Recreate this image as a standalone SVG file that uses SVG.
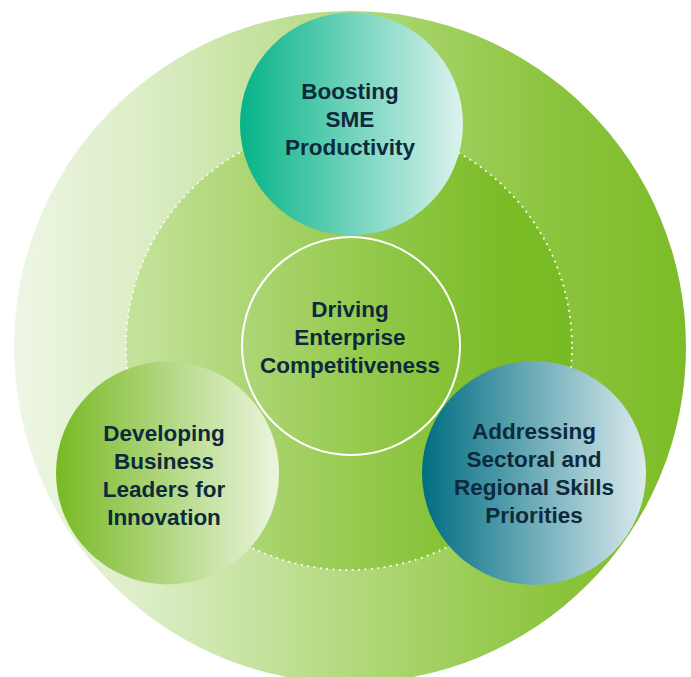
<svg xmlns="http://www.w3.org/2000/svg" width="691" height="677" viewBox="0 0 691 677">
<defs>
<linearGradient id="gOuter" gradientUnits="userSpaceOnUse" x1="14" y1="0" x2="686" y2="0">
<stop offset="0" stop-color="#eef6e5"/>
<stop offset="0.2" stop-color="#dbedc5"/>
<stop offset="0.55" stop-color="#acd672"/>
<stop offset="0.8" stop-color="#8cc43e"/>
<stop offset="1" stop-color="#7cbc27"/>
</linearGradient>
<linearGradient id="gInner" gradientUnits="userSpaceOnUse" x1="126" y1="0" x2="572" y2="0">
<stop offset="0" stop-color="#c6e39e"/>
<stop offset="0.45" stop-color="#9ccd58"/>
<stop offset="0.85" stop-color="#7abc26"/>
<stop offset="1" stop-color="#78bb24"/>
</linearGradient>
<linearGradient id="gTop" x1="0" y1="0" x2="1" y2="0">
<stop offset="0" stop-color="#05b388"/>
<stop offset="1" stop-color="#dcf3ee"/>
</linearGradient>
<linearGradient id="gLeft" x1="0" y1="0" x2="1" y2="0">
<stop offset="0" stop-color="#78b924"/>
<stop offset="1" stop-color="#ecf5df"/>
</linearGradient>
<linearGradient id="gRight" x1="0" y1="0" x2="1" y2="0">
<stop offset="0" stop-color="#006d82"/>
<stop offset="1" stop-color="#dbebee"/>
</linearGradient>
</defs>
<style>
.lbl{font-family:"Liberation Sans",Arial,sans-serif;font-weight:bold;font-size:22.5px;fill:#0c2a3b;text-anchor:middle}
</style>
<g id="background">
<circle cx="350" cy="347" r="336" fill="url(#gOuter)"/>
<circle cx="349" cy="347" r="223" fill="url(#gInner)"/>
</g>
<g id="connectors">
<circle cx="349" cy="347" r="223" fill="none" stroke="#ffffff" stroke-width="1.8" stroke-dasharray="1.8 4.6"/>
</g>
<g id="node-center">
<circle cx="351" cy="346" r="109" fill="none" stroke="#ffffff" stroke-width="2"/>
<text class="lbl" x="350" y="317">Driving</text>
<text class="lbl" x="350" y="345">Enterprise</text>
<text class="lbl" x="350" y="373">Competitiveness</text>
</g>
<g id="node-top">
<circle cx="351.5" cy="124" r="111.5" fill="url(#gTop)"/>
<text class="lbl" x="350" y="99">Boosting</text>
<text class="lbl" x="350" y="127">SME</text>
<text class="lbl" x="350" y="155">Productivity</text>
</g>
<g id="node-left">
<circle cx="167.5" cy="473" r="111.5" fill="url(#gLeft)"/>
<text class="lbl" x="164" y="441">Developing</text>
<text class="lbl" x="164" y="468.5">Business</text>
<text class="lbl" x="164" y="497">Leaders for</text>
<text class="lbl" x="164" y="525">Innovation</text>
</g>
<g id="node-right">
<circle cx="534" cy="473" r="112" fill="url(#gRight)"/>
<text class="lbl" x="534" y="438.5">Addressing</text>
<text class="lbl" x="534" y="467">Sectoral and</text>
<text class="lbl" x="534" y="495">Regional Skills</text>
<text class="lbl" x="534" y="523">Priorities</text>
</g>
</svg>
